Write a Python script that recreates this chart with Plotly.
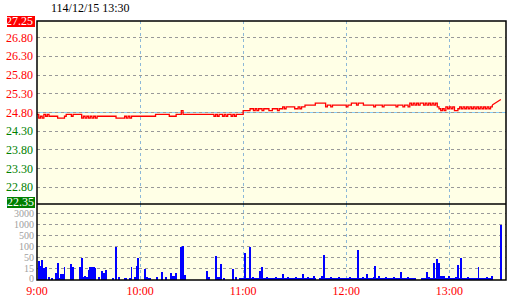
import numpy as np
import plotly.graph_objects as go

TITLE = "114/12/15 13:30"
PREV_CLOSE = 24.80
PRICE_MAX = 27.25
PRICE_MIN = 22.35
PRICE_TICKS = [26.80, 26.30, 25.80, 25.30, 24.80, 24.30, 23.80, 23.30, 22.80]
TIME_TICKS = [0, 60, 120, 180, 240]
TIME_LABELS = ["9:00", "10:00", "11:00", "12:00", "13:00"]
VOL_TICK_VALUES = [0, 15, 50, 100, 500, 1000, 3000]
VOL_TICK_LABELS = ["0", "15", "50", "100", "500", "1000", "3000"]

# price per minute, 9:00 .. 13:25
PRICE = [
    24.75, 24.65, 24.70, 24.65, 24.75, 24.70, 24.75, 24.70, 24.70, 24.70,
    24.70, 24.70, 24.65, 24.65, 24.65, 24.65, 24.70, 24.75, 24.75, 24.75,
    24.70, 24.75, 24.75, 24.75, 24.75, 24.75, 24.65, 24.70, 24.65, 24.70,
    24.65, 24.70, 24.65, 24.70, 24.65, 24.70, 24.70, 24.70, 24.70, 24.70,
    24.70, 24.70, 24.70, 24.70, 24.70, 24.70, 24.65, 24.65, 24.65, 24.65,
    24.65, 24.70, 24.65, 24.70, 24.65, 24.70, 24.70, 24.70, 24.70, 24.70,
    24.70, 24.70, 24.70, 24.70, 24.70, 24.70, 24.70, 24.70, 24.70, 24.75,
    24.75, 24.75, 24.75, 24.75, 24.75, 24.75, 24.75, 24.70, 24.70, 24.70,
    24.70, 24.75, 24.75, 24.75, 24.85, 24.75, 24.75, 24.75, 24.75, 24.75,
    24.75, 24.75, 24.75, 24.75, 24.75, 24.75, 24.75, 24.75, 24.75, 24.75,
    24.75, 24.75, 24.75, 24.70, 24.75, 24.70, 24.75, 24.75, 24.70, 24.75,
    24.70, 24.75, 24.75, 24.70, 24.75, 24.70, 24.75, 24.75, 24.75, 24.75,
    24.85, 24.85, 24.85, 24.85, 24.90, 24.90, 24.85, 24.90, 24.85, 24.90,
    24.90, 24.85, 24.90, 24.90, 24.90, 24.85, 24.85, 24.90, 24.90, 24.90,
    24.85, 24.90, 24.90, 24.95, 24.90, 24.95, 24.95, 24.95, 24.95, 24.95,
    24.90, 24.90, 24.95, 24.90, 24.95, 24.95, 25.00, 25.00, 25.00, 25.00,
    25.00, 25.00, 25.05, 25.05, 25.05, 25.05, 25.05, 25.05, 24.95, 25.00,
    25.00, 24.95, 25.00, 25.00, 25.00, 25.00, 25.00, 25.00, 25.00, 25.00,
    24.95, 25.00, 25.00, 25.05, 25.05, 25.05, 25.00, 25.05, 25.05, 25.05,
    25.00, 25.00, 25.00, 25.00, 25.00, 25.00, 24.95, 25.00, 25.00, 25.00,
    25.00, 24.95, 25.00, 25.00, 25.00, 25.00, 25.00, 25.00, 25.00, 24.95,
    25.00, 25.00, 25.00, 24.95, 25.00, 25.00, 24.95, 25.05, 25.00, 25.05,
    25.00, 25.05, 25.00, 25.05, 25.05, 25.00, 25.05, 25.00, 25.05, 25.00,
    25.05, 25.00, 25.05, 24.95, 24.90, 24.85, 24.90, 24.85, 24.95, 24.90,
    24.95, 24.90, 24.95, 24.85, 24.85, 24.90, 24.95, 24.90, 24.95, 24.90,
    24.95, 24.90, 24.95, 24.90, 24.95, 24.90, 24.95, 24.90, 24.95, 24.90,
    24.95, 24.90, 24.95, 24.90, 24.95, 25.00,
]
CLOSE_MINUTE = 270
CLOSE_PRICE = 25.15

# volume per minute, 9:00 .. 13:30
VOLUME = [
    0, 39, 25, 45, 19, 22, 0, 4, 0, 2,
    0, 9, 35, 3, 8, 8, 22, 0, 0, 0,
    31, 22, 0, 0, 0, 22, 51, 4, 5, 4,
    13, 22, 22, 20, 17, 0, 4, 0, 12, 10,
    14, 0, 0, 0, 3, 0, 100, 0, 4, 0,
    0, 2, 2, 0, 3, 22, 0, 4, 24, 50,
    0, 0, 0, 16, 4, 3, 3, 0, 0, 0,
    4, 0, 0, 11, 0, 4, 0, 0, 9, 5,
    6, 10, 0, 0, 105, 130, 7, 0, 0, 0,
    0, 0, 0, 0, 0, 0, 0, 0, 0, 12,
    4, 0, 0, 0, 60, 4, 4, 32, 0, 3,
    0, 0, 0, 0, 15, 0, 4, 0, 3, 3,
    3, 74, 3, 3, 100, 3, 4, 3, 3, 3,
    12, 22, 3, 3, 4, 3, 3, 3, 3, 4,
    3, 3, 3, 8, 3, 3, 4, 3, 3, 3,
    3, 4, 3, 3, 3, 8, 3, 3, 4, 3,
    3, 5, 3, 0, 0, 3, 5, 64, 3, 3,
    3, 4, 3, 3, 3, 3, 4, 3, 3, 3,
    3, 3, 4, 3, 3, 3, 3, 87, 3, 3,
    4, 3, 8, 3, 3, 3, 4, 26, 3, 5,
    3, 3, 3, 4, 3, 3, 3, 3, 4, 3,
    3, 3, 11, 3, 3, 3, 4, 3, 3, 2,
    2, 0, 0, 0, 3, 3, 3, 11, 4, 3,
    3, 35, 3, 46, 35, 5, 5, 5, 3, 3,
    5, 3, 3, 3, 4, 28, 3, 51, 3, 3,
    3, 4, 3, 3, 3, 3, 3, 22, 3, 3,
    3, 3, 4, 3, 3, 6, 0, 0, 0, 0,
    980,
]

# ---- styling / layout constants ----
FONT = "Liberation Serif"
BG = "#FFFFE6"
RED = "#FF0000"
GREEN = "#008000"
GRAY = "#A0A0A0"
GRID = "#999999"
VGRID = "#8CB8D8"
REF_BLUE = "#87CEFA"
X_MAX = 273
VOL_TOP = 6.9
VOL_DOMAIN = 76 / 259

minutes = np.arange(len(PRICE))
vol_minutes = np.arange(len(VOLUME))
vol_arr = np.array(VOLUME, dtype=float)
mask = vol_arr > 0
vol_scaled = np.interp(vol_arr, VOL_TICK_VALUES, np.arange(len(VOL_TICK_VALUES)))

fig = go.Figure()
fig.add_trace(go.Scatter(
    x=minutes, y=PRICE, mode="lines", line=dict(color=RED, width=1.3, shape="hv"),
    xaxis="x", yaxis="y", hoverinfo="skip", showlegend=False))
fig.add_trace(go.Scatter(
    x=[minutes[-1], CLOSE_MINUTE], y=[PRICE[-1], CLOSE_PRICE], mode="lines",
    line=dict(color=RED, width=1.3), xaxis="x", yaxis="y", hoverinfo="skip",
    showlegend=False))
fig.add_trace(go.Bar(
    x=vol_minutes[mask], y=vol_scaled[mask], width=0.55,
    marker=dict(color="#0000FF", line=dict(width=0)),
    xaxis="x", yaxis="y2", hoverinfo="skip", showlegend=False))

annotations = []
for p in PRICE_TICKS:
    annotations.append(dict(
        x=0, xref="paper", xanchor="right", xshift=-2, y=p, yref="y",
        yanchor="middle", text=f"{p:.2f}", showarrow=False,
        font=dict(family=FONT, size=12, color=RED if p >= PREV_CLOSE else GREEN)))
annotations.append(dict(
    x=0, xref="paper", xanchor="right", xshift=-2, y=PRICE_MAX, yref="y",
    yanchor="middle", text=f"{PRICE_MAX:.2f}", showarrow=False,
    font=dict(family=FONT, size=12, color="white")))
annotations.append(dict(
    x=0, xref="paper", xanchor="right", xshift=-2, y=PRICE_MIN, yref="y",
    yanchor="middle", yshift=2, text=f"{PRICE_MIN:.2f}", showarrow=False,
    borderpad=0, font=dict(family=FONT, size=12, color="white")))
for i, lab in enumerate(VOL_TICK_LABELS):
    annotations.append(dict(
        x=0, xref="paper", xanchor="right", xshift=-2, y=i, yref="y2",
        yanchor="middle", yshift=2 if i == 0 else 0, text=lab, showarrow=False,
        borderpad=0, font=dict(family=FONT, size=10, color=GRAY)))
annotations.append(dict(
    x=0, xref="paper", xanchor="left", xshift=12, y=1, yref="paper",
    yanchor="middle", yshift=13, text=TITLE, showarrow=False,
    font=dict(family=FONT, size=12, color="black")))

shapes = [
    dict(type="line", xref="paper", x0=0, x1=1, yref="y", y0=PREV_CLOSE, y1=PREV_CLOSE,
         line=dict(color=REF_BLUE, width=1.2), layer="below"),
    dict(type="rect", xref="paper", yref="paper", x0=-30 / 469, x1=-2 / 469,
         y0=(280 - 27) / 259, y1=(280 - 16) / 259, fillcolor=RED, line=dict(width=0),
         layer="below"),
    dict(type="rect", xref="paper", yref="paper", x0=-30 / 469, x1=-2 / 469,
         y0=(280 - 208) / 259, y1=(280 - 197) / 259, fillcolor=GREEN, line=dict(width=0),
         layer="below"),
    dict(type="rect", xref="paper", yref="paper", x0=0, x1=1, y0=0, y1=1,
         line=dict(color="black", width=1.5), fillcolor="rgba(0,0,0,0)"),
    dict(type="line", xref="paper", yref="paper", x0=0, x1=1, y0=VOL_DOMAIN, y1=VOL_DOMAIN,
         line=dict(color="black", width=1.5)),
]

fig.update_layout(
    width=520, height=300,
    margin=dict(l=37, r=14, t=21, b=20, autoexpand=False),
    paper_bgcolor="white", plot_bgcolor=BG,
    font=dict(family=FONT, size=12),
    bargap=0,
    xaxis=dict(
        range=[0, X_MAX], anchor="y2", tickvals=TIME_TICKS, ticktext=TIME_LABELS,
        tickfont=dict(family=FONT, size=12, color=RED), ticks="", ticklen=0,
        ticklabelstandoff=2,
        showgrid=True, gridcolor=VGRID, griddash="dot", gridwidth=1,
        zeroline=False, showline=False, fixedrange=True, automargin=False),
    yaxis=dict(
        domain=[VOL_DOMAIN, 1], range=[PRICE_MIN, PRICE_MAX], tickvals=PRICE_TICKS,
        showticklabels=False, showgrid=True, gridcolor=GRID, griddash="dot",
        gridwidth=1, zeroline=False, showline=False, automargin=False),
    yaxis2=dict(
        domain=[0, VOL_DOMAIN], range=[0, VOL_TOP],
        tickvals=list(range(1, len(VOL_TICK_VALUES))), showticklabels=False,
        showgrid=True, gridcolor=GRID, griddash="dot", gridwidth=1,
        zeroline=False, showline=False, automargin=False),
    annotations=annotations,
    shapes=shapes,
)

fig.write_html("out.html")
